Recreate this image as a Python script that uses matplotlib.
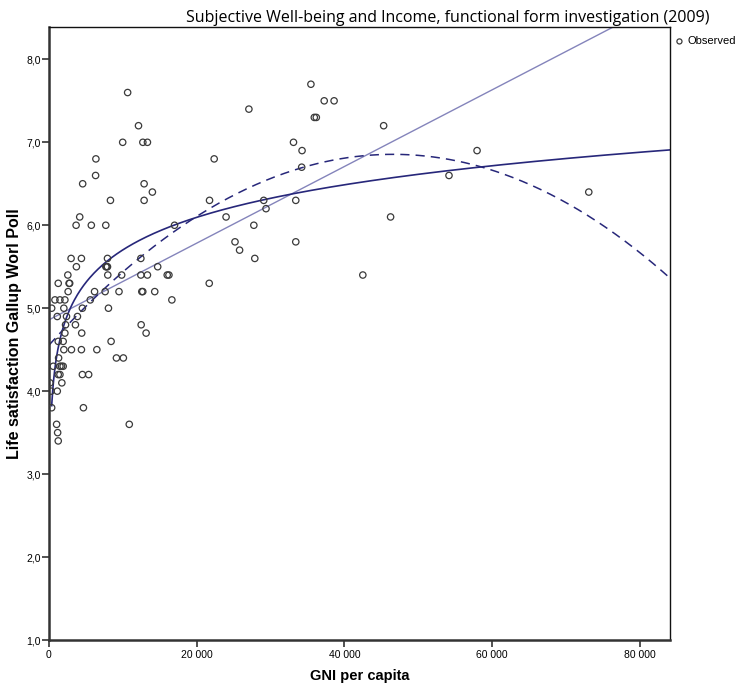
import numpy as np
import matplotlib
matplotlib.use("Agg")
import matplotlib.pyplot as plt
from matplotlib.ticker import FuncFormatter

# ---------- data ----------
gni = [10650, 12120, 9980, 12710, 13330, 6350, 6310, 4560, 12880, 14000,
       8320, 12880, 21740, 22370, 23980, 25190, 25810, 4160, 3670, 5730,
       7690, 17000, 2990, 4390, 3710, 7920, 7700, 7810, 7920, 12440,
       14720, 2550, 7960, 9840, 12440, 13330, 16010, 16240, 1250, 2720,
       2800, 21700, 2590, 6170, 7600, 9480, 12570, 12700, 14320, 805,
       1480, 2150, 5590, 16640, 360, 2010, 4520, 8050, 1120, 2370,
       3850, 2240, 3580, 12480, 2150, 4430, 13150, 1250, 1920, 8410,
       2010, 3040, 4390, 6480, 1300, 9130, 10070, 580, 1480, 1700,
       1920, 1250, 1480, 4520, 5370, 1740, 130, 270, 1120, 360,
       4660, 1030, 10870, 1170, 1250,
       35470, 37270, 38610, 27070, 35930, 36200, 45320, 33110, 34270, 34220,
       29080, 33420, 29390, 46260, 27740, 33420, 27870, 42500, 57970, 54170,
       73100]
life_sat = [7.6, 7.2, 7.0, 7.0, 7.0, 6.8, 6.6, 6.5, 6.5, 6.4,
            6.3, 6.3, 6.3, 6.8, 6.1, 5.8, 5.7, 6.1, 6.0, 6.0,
            6.0, 6.0, 5.6, 5.6, 5.5, 5.6, 5.5, 5.5, 5.5, 5.6,
            5.5, 5.4, 5.4, 5.4, 5.4, 5.4, 5.4, 5.4, 5.3, 5.3,
            5.3, 5.3, 5.2, 5.2, 5.2, 5.2, 5.2, 5.2, 5.2, 5.1,
            5.1, 5.1, 5.1, 5.1, 5.0, 5.0, 5.0, 5.0, 4.9, 4.9,
            4.9, 4.8, 4.8, 4.8, 4.7, 4.7, 4.7, 4.6, 4.6, 4.6,
            4.5, 4.5, 4.5, 4.5, 4.4, 4.4, 4.4, 4.3, 4.3, 4.3,
            4.3, 4.2, 4.2, 4.2, 4.2, 4.1, 4.1, 4.0, 4.0, 3.8,
            3.8, 3.6, 3.6, 3.5, 3.4,
            7.7, 7.5, 7.5, 7.4, 7.3, 7.3, 7.2, 7.0, 6.9, 6.7,
            6.3, 6.3, 6.2, 6.1, 6.0, 5.8, 5.6, 5.4, 6.9, 6.6,
            6.4]

# fitted curves (coefficients)
lin_coef = [4.86, 4.62e-5]                  # b0, b1
log_coef = [0.49, 0.566]                    # b0, b1 * ln(x)
quad_coef = [4.555, 9.875e-5, -1.06e-9]     # b0, b1, b2

x_max = 84100
y_ticks = [1, 2, 3, 4, 5, 6, 7, 8]
x_ticks = [0, 20000, 40000, 60000, 80000]

navy = "#27277a"
light = "#8484bb"

fig = plt.figure(figsize=(7.52, 6.89), dpi=100)
ax = fig.add_axes([49 / 752, 1 - 640 / 689, 621 / 752, 613 / 689])

ax.scatter(gni, life_sat, s=21, facecolors="none", edgecolors="#3a3a3a",
           linewidths=0.9, zorder=3, label="Observed")

xs = np.linspace(0, x_max, 400)
ax.plot(xs, lin_coef[0] + lin_coef[1] * xs, color=light, lw=1.0, zorder=2)
xl = np.linspace(362, x_max, 600)
ax.plot(xl, log_coef[0] + log_coef[1] * np.log(xl), color=navy, lw=1.2, zorder=2)
ax.plot(xs, quad_coef[0] + quad_coef[1] * xs + quad_coef[2] * xs ** 2,
        color=navy, lw=1.1, ls=(0, (6, 4)), zorder=2)

ax.set_xlim(0, x_max)
ax.set_ylim(1, 8.39)
ax.set_xticks(x_ticks)
ax.set_yticks(y_ticks)
ax.xaxis.set_major_formatter(FuncFormatter(lambda v, p: f"{int(v):,}".replace(",", " ")))
ax.yaxis.set_major_formatter(FuncFormatter(lambda v, p: f"{v:.1f}".replace(".", ",")))

tick_font = ["Liberation Sans Narrow", "Liberation Sans", "DejaVu Sans"]
for lab in ax.get_xticklabels() + ax.get_yticklabels():
    lab.set_family(tick_font)
    lab.set_fontsize(7.5)
ax.tick_params(direction="out", length=5, width=1.2, color="#333333", pad=2)
ax.tick_params(axis="y", pad=1)

for side in ["left", "bottom"]:
    ax.spines[side].set_linewidth(1.8)
    ax.spines[side].set_color("#333333")
for side in ["top", "right"]:
    ax.spines[side].set_linewidth(1.0)
    ax.spines[side].set_color("#111111")

ax.set_xlabel("GNI per capita", family=["Liberation Sans", "DejaVu Sans"],
              fontweight="bold", fontsize=10.5)
ax.xaxis.set_label_coords(0.5, -29 / 613)
ax.set_ylabel("Life satisfaction Gallup Worl Poll", family=["Liberation Sans", "DejaVu Sans"],
              fontweight="bold", fontsize=11.5)
ax.yaxis.set_label_coords(-27 / 621, 0.5)

fig.text(186 / 752, 1 - 18 / 689, "Subjective Well-being and Income, functional form investigation (2009)",
         family=["Open Sans", "DejaVu Sans"], fontsize=11.5, ha="left", va="center")

leg = ax.legend(loc="upper left", bbox_to_anchor=(1.0, 0.992), frameon=False,
                handletextpad=0.3, borderaxespad=0, handlelength=0.9,
                markerscale=0.8, prop={"family": tick_font, "size": 8})

fig.savefig("out.png", dpi=100)
